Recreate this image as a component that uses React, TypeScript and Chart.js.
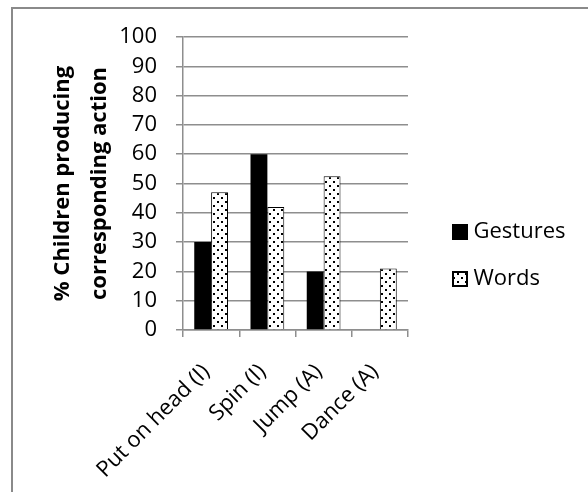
import React, { useEffect, useRef } from "react";
import { Chart, registerables } from "chart.js";

Chart.register(...registerables);

const categories = ["Put on head (I)", "Spin (I)", "Jump (A)", "Dance (A)"];
const gestures = [30, 60, 20, 0];
const words = [47, 42, 52.5, 21];
const seriesNames = ["Gestures", "Words"];
const yTitle = ["% Children producing", "corresponding action"];
const yMin = 0;
const yMax = 100;
const yStep = 10;

const FONT = "'Open Sans', 'DejaVu Sans', sans-serif";

function makeDots(): CanvasPattern | string {
  const c = document.createElement("canvas");
  c.width = 8;
  c.height = 8;
  const g = c.getContext("2d");
  if (!g) return "#fff";
  g.fillStyle = "#ffffff";
  g.fillRect(0, 0, 8, 8);
  g.fillStyle = "#000000";
  g.fillRect(1, 1, 2, 2);
  g.fillRect(5, 5, 2, 2);
  return g.createPattern(c, "repeat") || "#fff";
}

// Legend drawn beside the plot area, using each dataset's own label and colours.
const sideLegend = {
  id: "sideLegend",
  afterDraw(chart: any) {
    const { ctx, chartArea } = chart;
    const boxSize = 16;
    const gapToBox = 44;
    const spacing = 47.5;
    const firstOffset = 48;
    const midY = (chartArea.top + chartArea.bottom) / 2;
    ctx.save();
    chart.data.datasets.forEach((ds: any, i: number) => {
      const cy = Math.round(midY + firstOffset + i * spacing);
      const x = Math.round(chartArea.right + gapToBox);
      const top = cy - boxSize / 2;
      ctx.fillStyle = ds.backgroundColor;
      ctx.fillRect(x, top, boxSize, boxSize);
      if (ds.borderWidth) {
        ctx.strokeStyle = ds.borderColor;
        ctx.lineWidth = 2;
        ctx.strokeRect(x + 1, top + 1, boxSize - 2, boxSize - 2);
      }
      ctx.fillStyle = "#000";
      ctx.font = `22px ${FONT}`;
      ctx.textAlign = "left";
      ctx.textBaseline = "middle";
      ctx.fillText(ds.label, x + boxSize + 5.5, cy);
    });
    ctx.restore();
  },
};

export default function App() {
  const ref = useRef<HTMLCanvasElement | null>(null);

  useEffect(() => {
    if (!ref.current) return;
    const grid = "#8e8e8e";
    const chart = new Chart(ref.current, {
      type: "bar",
      data: {
        labels: categories,
        datasets: [
          {
            label: seriesNames[0],
            data: gestures,
            backgroundColor: "#000000",
            borderColor: "#000000",
            borderWidth: 0,
          },
          {
            label: seriesNames[1],
            data: words,
            backgroundColor: makeDots() as any,
            borderColor: "#000000",
            borderWidth: 1,
          },
        ],
      },
      plugins: [sideLegend],
      options: {
        animation: false,
        responsive: false,
        devicePixelRatio: 1,
        layout: { padding: { top: 37, right: 180, bottom: 0, left: 0 } },
        datasets: {
          bar: { categoryPercentage: 0.6, barPercentage: 1 },
        },
        plugins: {
          tooltip: { enabled: false },
          legend: { display: false },
        },
        scales: {
          x: {
            grid: {
              display: true,
              drawOnChartArea: false,
              drawTicks: true,
              tickLength: 7,
              color: grid,
              lineWidth: 1.5,
              offset: true,
            },
            border: { display: true, color: grid, width: 1.5 },
            ticks: {
              color: "#000",
              font: { family: FONT, size: 22 },
              minRotation: 45,
              maxRotation: 45,
              padding: 22,
              labelOffset: -5,
              autoSkip: false,
            },
            afterFit: (s: any) => {
              s.height = 162;
            },
          },
          y: {
            min: yMin,
            max: yMax,
            ticks: {
              stepSize: yStep,
              color: "#000",
              font: { family: FONT, size: 22 },
              padding: 19,
              autoSkip: false,
            },
            grid: {
              color: grid,
              drawTicks: true,
              tickLength: 7,
              lineWidth: 1.5,
            },
            border: { display: true, color: grid, width: 1.5 },
            title: {
              display: true,
              text: yTitle,
              color: "#000",
              font: { family: FONT, size: 22, weight: "bold", lineHeight: 1.68 },
              padding: { top: 44, bottom: 0 },
            },
            afterFit: (s: any) => {
              s.width = 183;
            },
          },
        },
      },
    });
    return () => chart.destroy();
  }, []);

  return (
    <div style={{ position: "fixed", left: 0, top: 0, width: 588, height: 492, background: "#fff", overflow: "hidden" }}>
      <div
        style={{
          position: "absolute",
          left: 11,
          top: 7,
          width: 600,
          height: 500,
          borderTop: "2px solid #8a8a8a",
          borderLeft: "2px solid #8a8a8a",
          boxSizing: "border-box",
        }}
      />
      <canvas ref={ref} width={588} height={492} style={{ position: "absolute", left: 0, top: 0, width: 588, height: 492 }} />
    </div>
  );
}
